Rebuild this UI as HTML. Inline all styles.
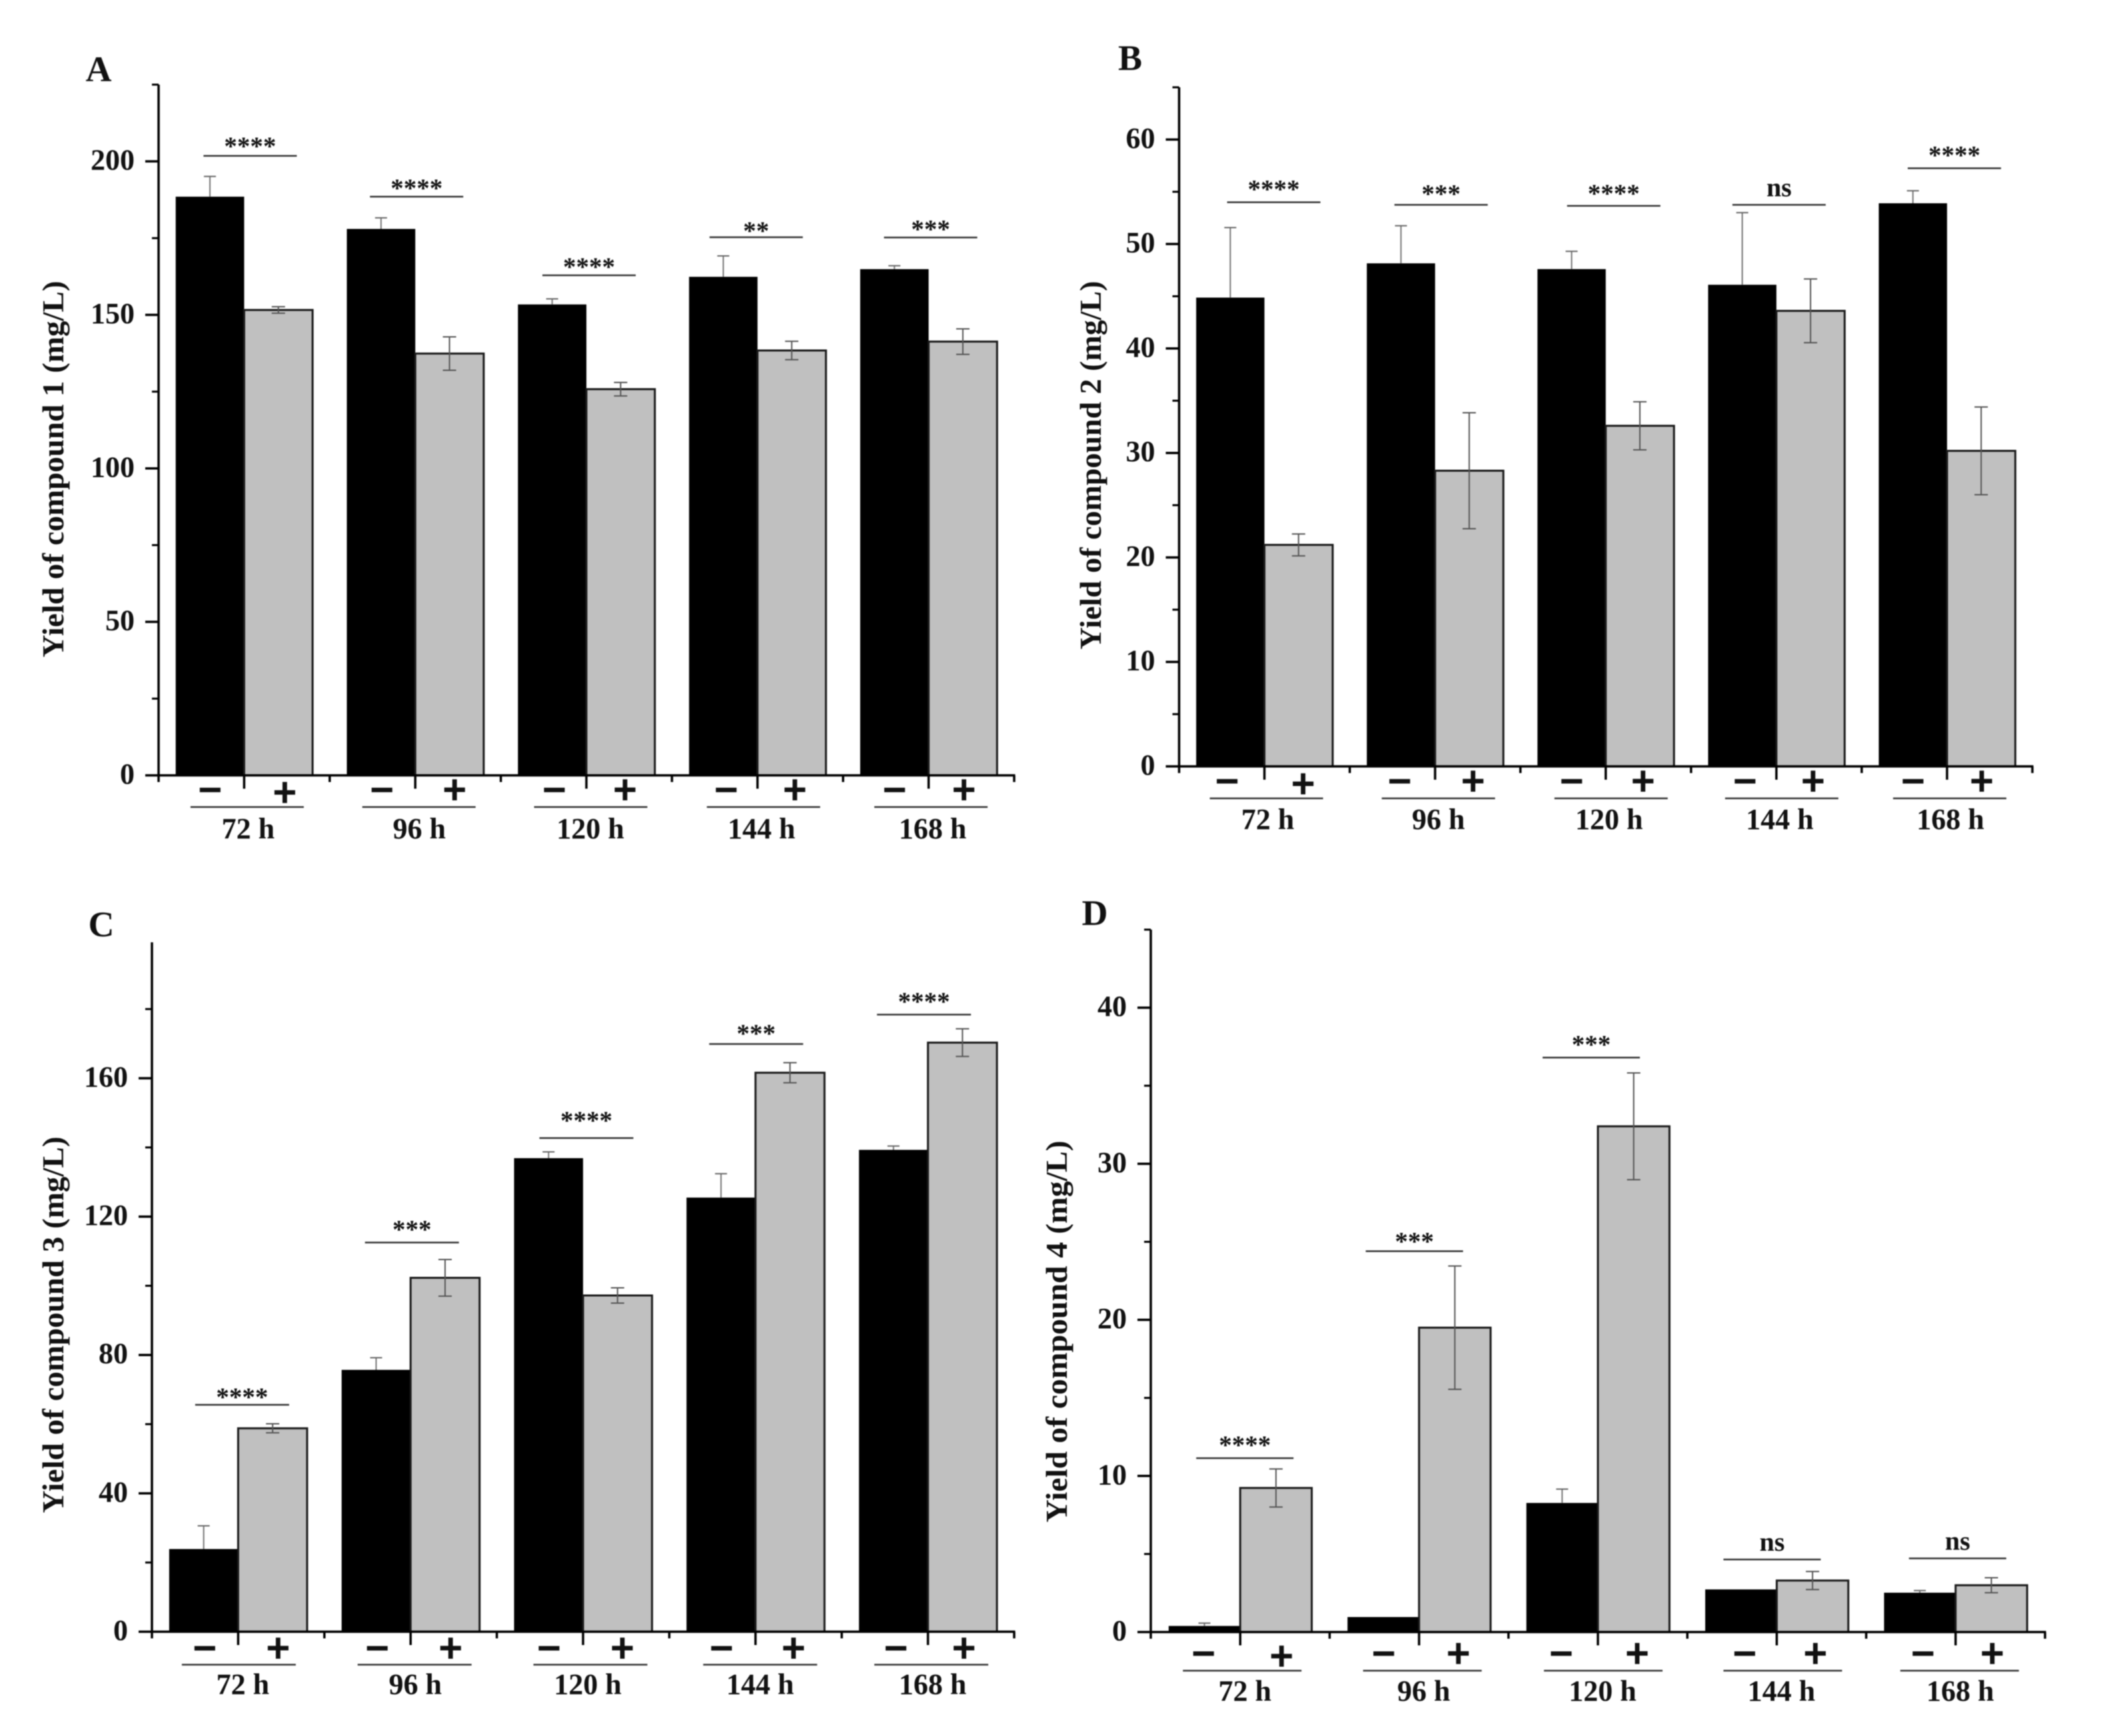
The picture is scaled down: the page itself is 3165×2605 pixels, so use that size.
<!DOCTYPE html>
<html lang="en">
<head>
<meta charset="utf-8">
<title>Yield of compounds 1-4</title>
<style>
html,body{margin:0;padding:0;background:#fff;}
svg{display:block;filter:blur(0.7px);}
text{font-family:"Liberation Serif",serif;font-weight:bold;fill:#111;}
</style>
</head>
<body>
<svg id="figure" xmlns="http://www.w3.org/2000/svg" width="3165" height="2605" viewBox="0 0 3165 2605"></svg>
<script>
const categories = ['72 h', '96 h', '120 h', '144 h', '168 h'];

const ticksA = [0, 50, 100, 150, 200];
const minorTicksA = [25, 75, 125, 175, 225];
const minusA = [188.5, 178, 153.4, 162.4, 164.9];
const minusErrA = [6.6, 3.6, 1.8, 6.8, 1.1];
const plusA = [151.6, 137.4, 125.8, 138.4, 141.3];
const plusErrA = [1.05, 5.45, 2.2, 3.0, 4.15];
const sigLevelA = [201.8, 188.5, 162.9, 175.3, 175.2];
const sigLabelA = ['****', '****', '****', '**', '***'];

const ticksB = [0, 10, 20, 30, 40, 50, 60];
const minorTicksB = [5, 15, 25, 35, 45, 55, 65];
const minusB = [44.87, 48.15, 47.6, 46.1, 53.9];
const minusErrB = [6.7, 3.6, 1.7, 6.9, 1.2];
const plusB = [21.2, 28.3, 32.6, 43.6, 30.2];
const plusErrB = [1.05, 5.55, 2.3, 3.05, 4.2];
const sigLevelB = [54.0, 53.75, 53.65, 53.75, 57.25];
const sigLabelB = ['****', '***', '****', 'ns', '****'];

const ticksC = [0, 40, 80, 120, 160];
const minorTicksC = [20, 60, 100, 140, 180];
const minusC = [23.9, 75.7, 136.9, 125.5, 139.3];
const minusErrC = [6.7, 3.5, 1.8, 6.9, 1.1];
const plusC = [58.8, 102.3, 97.2, 161.6, 170.3];
const plusErrC = [1.3, 5.3, 2.2, 2.9, 4.0];
const sigLevelC = [65.6, 112.5, 142.7, 169.9, 178.4];
const sigLabelC = ['****', '***', '****', '***', '****'];

const ticksD = [0, 10, 20, 30, 40];
const minorTicksD = [5, 15, 25, 35, 45];
const minusD = [0.39, 0.96, 8.27, 2.73, 2.52];
const minusErrD = [0.18, 0, 0.89, 0, 0.14];
const plusD = [9.23, 19.5, 32.4, 3.3, 3.0];
const plusErrD = [1.22, 3.95, 3.42, 0.58, 0.48];
const sigLevelD = [11.14, 24.4, 36.8, 4.65, 4.72];
const sigLabelD = ['****', '***', '***', 'ns', 'ns'];

const SVGNS = 'http://www.w3.org/2000/svg';
const root = document.getElementById('figure');

function line(parent, x1, y1, x2, y2, stroke, width) {
  const el = document.createElementNS(SVGNS, 'line');
  el.setAttribute('x1', x1);
  el.setAttribute('y1', y1);
  el.setAttribute('x2', x2);
  el.setAttribute('y2', y2);
  el.setAttribute('stroke', stroke);
  el.setAttribute('stroke-width', width);
  parent.appendChild(el);
  return el;
}

function label(parent, str, x, y, size, anchor) {
  const el = document.createElementNS(SVGNS, 'text');
  el.setAttribute('x', x);
  el.setAttribute('y', y);
  el.setAttribute('font-size', size);
  el.setAttribute('text-anchor', anchor);
  el.textContent = str;
  parent.appendChild(el);
  return el;
}

function drawPanel(p) {
  const g = document.createElementNS(SVGNS, 'g');
  
  
  root.appendChild(g);

  const unit = (p.baseY - p.topY) / p.yMax;
  const yPos = v => p.baseY - v * unit;
  const period = (p.xEnd - p.axisX) / categories.length;
  const center = i => p.axisX + (i + 0.5) * period;
  const barW = period * 0.4;

  // panel letter
  const letter = label(g, p.letter, p.letterX, p.letterY, 54, 'middle');
  
  

  // y-axis title
  const title = label(g, p.title, 0, 0, 46, 'middle');
  title.setAttribute('transform', 'translate(' + p.titleX + ' ' + p.titleY + ') rotate(-90)');
  title.setAttribute('textLength', p.titleLen);
  title.setAttribute('lengthAdjust', 'spacingAndGlyphs');
  
  

  // bars
  categories.forEach((cat, i) => {
    const c = center(i);
    const top1 = yPos(p.minus[i]);
    const top2 = yPos(p.plus[i]);

    const b1 = document.createElementNS(SVGNS, 'rect');
    b1.setAttribute('x', c - barW);
    b1.setAttribute('y', top1);
    b1.setAttribute('width', barW);
    b1.setAttribute('height', p.baseY - top1);
    b1.setAttribute('fill', '#000');
    
    
    g.appendChild(b1);

    const b2 = document.createElementNS(SVGNS, 'rect');
    b2.setAttribute('x', c);
    b2.setAttribute('y', top2);
    b2.setAttribute('width', barW);
    b2.setAttribute('height', p.baseY - top2);
    b2.setAttribute('fill', '#c0c0c0');
    b2.setAttribute('stroke', '#1a1a1a');
    b2.setAttribute('stroke-width', 3);
    
    
    g.appendChild(b2);

    // error bar on black bar: only upper part is visible
    if (p.minusErr[i] > 0) {
      const x1 = c - barW / 2;
      const hi = yPos(p.minus[i] + p.minusErr[i]);
      const e1 = line(g, x1, top1, x1, hi, '#777', 2);
      
      
      const c1 = line(g, x1 - 9, hi, x1 + 9, hi, '#666', 2);
      
      
    }

    // error bar on grey bar
    const x2 = c + barW / 2;
    const hi2 = yPos(p.plus[i] + p.plusErr[i]);
    const lo2 = yPos(p.plus[i] - p.plusErr[i]);
    const e2 = line(g, x2, hi2, x2, lo2, '#555', 2);
    
    
    const c2 = line(g, x2 - 10, hi2, x2 + 10, hi2, '#555', 2);
    
    
    const c3 = line(g, x2 - 10, lo2, x2 + 10, lo2, '#555', 2);
    
    

    // significance bracket
    const sy = yPos(p.sigLevel[i]);
    const sc = c + p.sigShift[i];
    const sl = line(g, sc - p.sigLen / 2, sy, sc + p.sigLen / 2, sy, '#333', 2.5);
    
    
    const isNs = p.sigLabel[i] === 'ns';
    const st = label(g, p.sigLabel[i], sc, isNs ? sy - 13 : sy + 15 - p.sigGap[i], isNs ? 40 : 39, 'middle');
    
    

    // minus / plus markers
    const mn = label(g, '\u2212', c + p.minusShift[i], p.signY + 20, 62, 'middle');
    mn.setAttribute('style', 'font-family:"Liberation Sans",sans-serif');
    
    
    const pl = label(g, '+', c + p.plusShift[i], p.signY + 20 + (i === 0 ? p.firstPlusDrop : 0), 62, 'middle');
    pl.setAttribute('style', 'font-family:"Liberation Sans",sans-serif');
    
    

    // group underline and label
    const gc = c + p.groupLineShift[i];
    const gl = line(g, gc - p.groupLen / 2, p.groupLineY, gc + p.groupLen / 2, p.groupLineY, '#333', 2.5);
    
    
    const gt = label(g, cat, c + p.groupTextShift, p.groupTextY + 15, 44, 'middle');
    
    
  });

  // y axis
  const ya = line(g, p.axisX, p.topY, p.axisX, p.baseY + 10, '#000', 3.5);
  
  
  p.ticks.forEach(v => {
    const y = yPos(v);
    const t = line(g, p.axisX - 20, y, p.axisX, y, '#000', 3.5);
    
    
    const tl = label(g, String(v), p.axisX - 36, y + 12.5, 44, 'end');
    
    
  });
  p.minorTicks.forEach(v => {
    const y = yPos(v);
    const t = line(g, p.axisX - 10, y, p.axisX, y, '#000', 3);
    
    
  });

  // x axis
  const xa = line(g, p.axisX - 1.5, p.baseY, p.xEnd + 1.5, p.baseY, '#000', 3.5);
  
  
  categories.forEach((cat, i) => {
    const t = line(g, center(i), p.baseY, center(i), p.baseY + 20, '#000', 3.5);
    
    
    const x0 = p.axisX + (i + 1) * period;
    const m = line(g, x0, p.baseY, x0, p.baseY + 10, '#000', 3.5);
    
    
  });
}

drawPanel({
  letter: 'A', letterX: 148, letterY: 122,
  title: 'Yield of compound 1 (mg/L)', titleX: 95, titleY: 704, titleLen: 565,
  axisX: 238, xEnd: 1522, baseY: 1163.5, topY: 127, yMax: 225,
  ticks: ticksA, minorTicks: minorTicksA,
  minus: minusA, minusErr: minusErrA, plus: plusA, plusErr: plusErrA,
  sigLevel: sigLevelA, sigLabel: sigLabelA, sigLen: 140,
  sigShift: [9, 2, 4, -2, 3], sigGap: [17, 15, 15, 12, 15],
  minusShift: [-51, -50, -48, -47, -51], plusShift: [61, 59, 58, 56, 53],
  groupLineShift: [4.5, 5.5, 6.5, 9, 3.5], groupTextShift: 6,
  signY: 1186, firstPlusDrop: 4, groupLineY: 1211, groupLen: 170, groupTextY: 1243
});

drawPanel({
  letter: 'B', letterX: 1696, letterY: 105,
  title: 'Yield of compound 2 (mg/L)', titleX: 1652, titleY: 698, titleLen: 553,
  axisX: 1769.5, xEnd: 3050, baseY: 1150, topY: 131, yMax: 65,
  ticks: ticksB, minorTicks: minorTicksB,
  minus: minusB, minusErr: minusErrB, plus: plusB, plusErr: plusErrB,
  sigLevel: sigLevelB, sigLabel: sigLabelB, sigLen: 140,
  sigShift: [14, 9, 12, 4, 11], sigGap: [22, 19, 21, 0, 22],
  minusShift: [-56, -53, -51, -47, -51], plusShift: [58, 57, 56, 55, 52],
  groupLineShift: [3, 5, 8, 8, 4], groupTextShift: 5,
  signY: 1173, firstPlusDrop: 4, groupLineY: 1198, groupLen: 170, groupTextY: 1229
});

drawPanel({
  letter: 'C', letterX: 152, letterY: 1405,
  title: 'Yield of compound 3 (mg/L)', titleX: 95, titleY: 1988, titleLen: 565,
  axisX: 228, xEnd: 1522, baseY: 2448.5, topY: 1414, yMax: 199.3,
  ticks: ticksC, minorTicks: minorTicksC,
  minus: minusC, minusErr: minusErrC, plus: plusC, plusErr: plusErrC,
  sigLevel: sigLevelC, sigLabel: sigLabelC, sigLen: 141,
  sigShift: [6, 2, 5, 1, -6], sigGap: [14, 22, 29, 18, 22],
  minusShift: [-50, -50, -51, -51, -48], plusShift: [60, 60, 59, 57, 54],
  groupLineShift: [1, 6, 11, 7, 5], groupTextShift: 7,
  signY: 2474, firstPlusDrop: 0, groupLineY: 2498, groupLen: 171, groupTextY: 2527
});

drawPanel({
  letter: 'D', letterX: 1643, letterY: 1388,
  title: 'Yield of compound 4 (mg/L)', titleX: 1601, titleY: 1998, titleLen: 573,
  axisX: 1727, xEnd: 3069, baseY: 2449, topY: 1395, yMax: 45,
  ticks: ticksD, minorTicks: minorTicksD,
  minus: minusD, minusErr: minusErrD, plus: plusD, plusErr: plusErrD,
  sigLevel: sigLevelD, sigLabel: sigLabelD, sigLen: 146,
  sigShift: [7, -7, -10, -7, 3], sigGap: [22, 17, 22, 0, 0],
  minusShift: [-55, -53, -55, -48, -49], plusShift: [62, 59, 59, 58, 55],
  groupLineShift: [3, 5, 8, 9, 6], groupTextShift: 7,
  signY: 2482, firstPlusDrop: 4, groupLineY: 2507, groupLen: 178, groupTextY: 2537
});
</script>
</body>
</html>
